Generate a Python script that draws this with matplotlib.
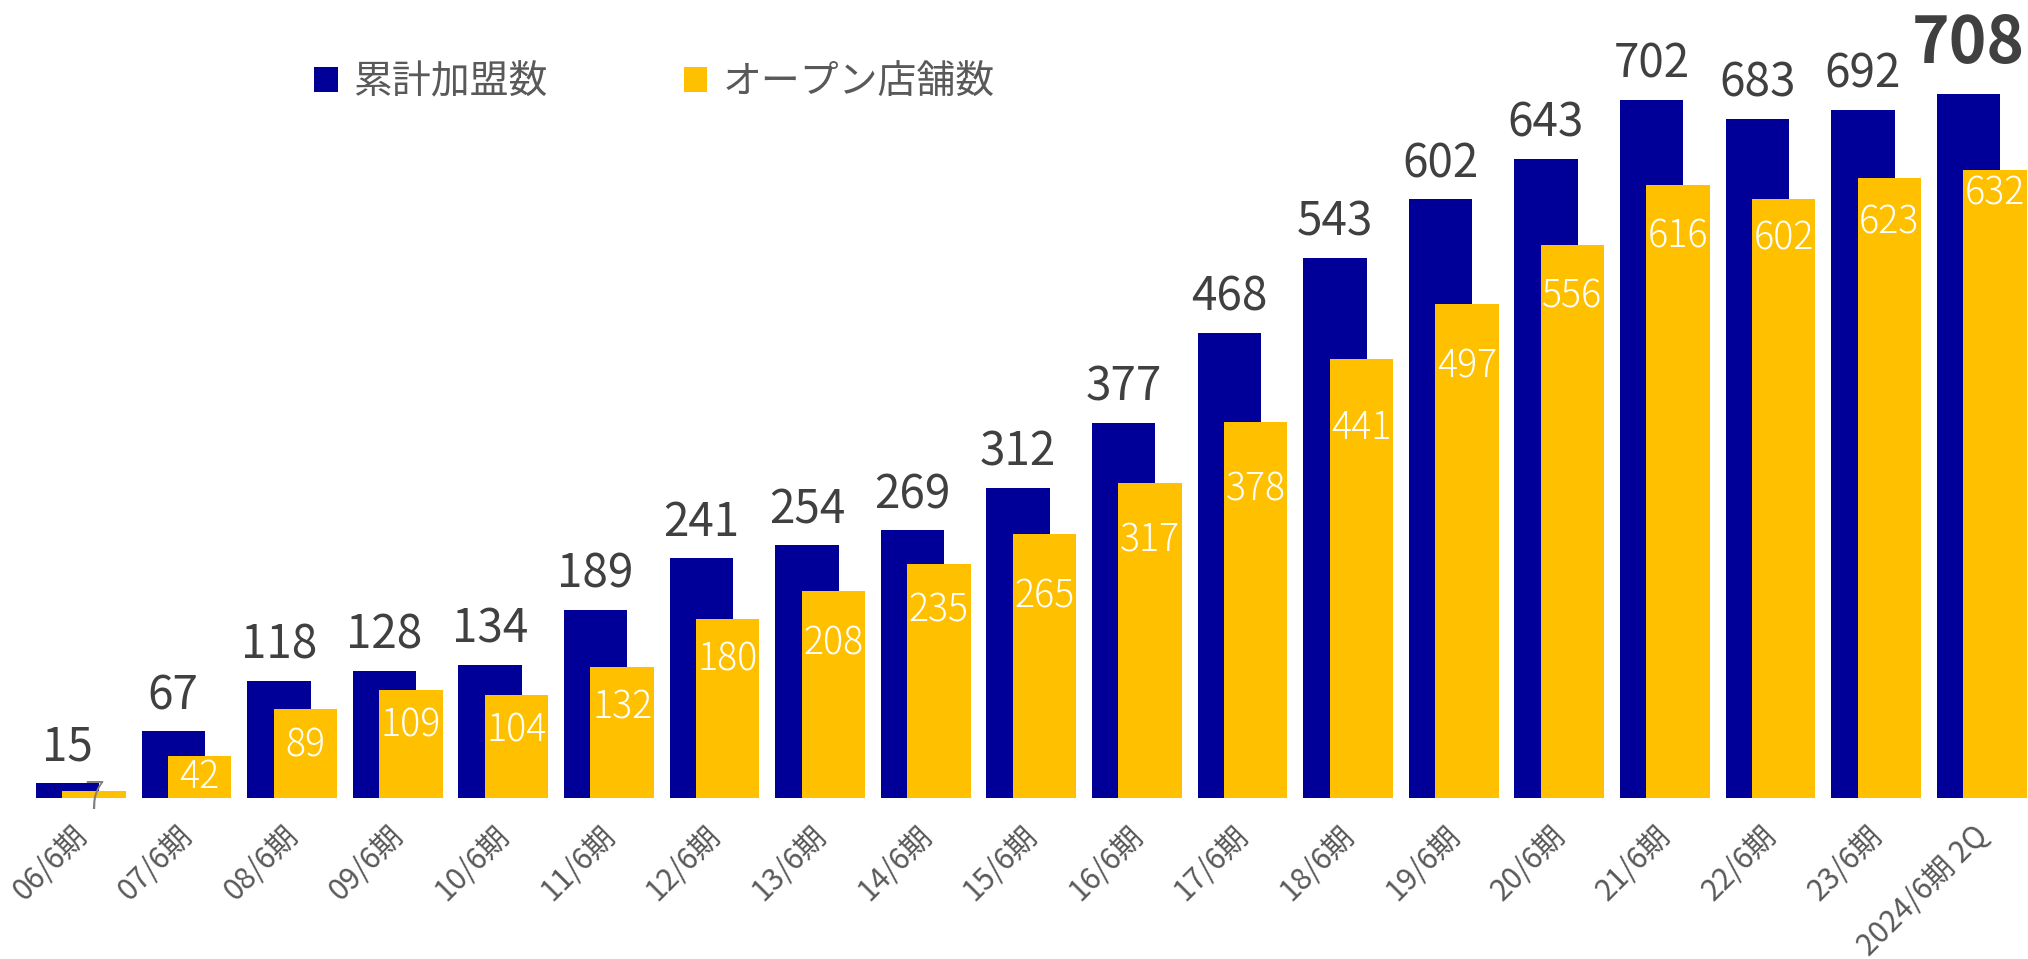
import numpy as np
import matplotlib
matplotlib.use("Agg")
import matplotlib.pyplot as plt
from matplotlib.patches import Patch
import matplotlib.transforms as mtransforms

plt.rcParams['font.family'] = ['Noto Sans CJK JP', 'DejaVu Sans']

categories = ["06/6期", "07/6期", "08/6期", "09/6期", "10/6期", "11/6期", "12/6期",
              "13/6期", "14/6期", "15/6期", "16/6期", "17/6期", "18/6期", "19/6期",
              "20/6期", "21/6期", "22/6期", "23/6期", "2024/6期 2Q"]
total_members = [15, 67, 118, 128, 134, 189, 241, 254, 269, 312, 377, 468, 543, 602,
                 643, 702, 683, 692, 708]
open_stores = [7, 42, 89, 109, 104, 132, 180, 208, 235, 265, 317, 378, 441, 497,
               556, 616, 602, 623, 632]
series_names = ["累計加盟数", "オープン店舗数"]

# label placement (pixels below the bar top, label centre) - layout only
open_label_drop_px = [3, 17, 32, 32, 32, 37, 36, 48, 42, 58, 53, 63, 64, 58,
                      47, 47, 35, 40, 20]

BLUE = '#000099'
YELLOW = '#FFC000'
DARK = '#404040'
GRAY = '#595959'
DPI = 100

fig = plt.figure(figsize=(20.28, 9.59), dpi=DPI)
ax = fig.add_axes([0, 0.1679, 1, 0.8321])
x = np.arange(len(categories))
off = 0.125
w = 0.6
ax.bar(x - off, total_members, width=w, color=BLUE, zorder=2)
ax.bar(x + off, open_stores, width=w, color=YELLOW, zorder=3)

ax.set_xlim(-0.766, 18.439)
ax.set_ylim(0, 802.5)
for s in ax.spines.values():
    s.set_visible(False)
ax.set_yticks([])
ax.set_xticks(x)
ax.set_xticklabels(categories, rotation=45, ha='right', va='top',
                   rotation_mode='anchor', fontsize=21.5, color=GRAY)
ax.tick_params(axis='x', length=0, pad=16)
shift = mtransforms.ScaledTranslation(-9 / DPI, 0, fig.dpi_scale_trans)
for lab in ax.get_xticklabels():
    lab.set_transform(lab.get_transform() + shift)

last = len(categories) - 1
for i, v in enumerate(total_members):
    if i == last:
        ax.annotate(str(v), (x[i] - off, v), xytext=(0, 12), textcoords='offset points',
                    ha='center', va='bottom', fontsize=46, fontweight='bold',
                    color=DARK, zorder=5, annotation_clip=False)
    else:
        ax.annotate(str(v), (x[i] - off, v), xytext=(0, 8), textcoords='offset points',
                    ha='center', va='bottom', fontsize=33, color=DARK, zorder=5,
                    annotation_clip=False)

for i, v in enumerate(open_stores):
    drop_pt = open_label_drop_px[i] * 72.0 / DPI
    col = 'white' if v > 30 else '#808080'
    ax.annotate(str(v), (x[i] + off, v), xytext=(0, -drop_pt), textcoords='offset points',
                ha='center', va='center_baseline', fontsize=27, color=col,
                fontweight='light', zorder=5, annotation_clip=False)

handles = [Patch(facecolor=BLUE), Patch(facecolor=YELLOW)]
fig.legend(handles, series_names, ncol=2, loc='center left',
           bbox_to_anchor=(0.155, 0.914), frameon=False, fontsize=28,
           handlelength=0.6, handleheight=0.6, handletextpad=0.4,
           columnspacing=3.5, labelcolor=GRAY, borderpad=0, borderaxespad=0)

fig.savefig('out.png', dpi=DPI)
